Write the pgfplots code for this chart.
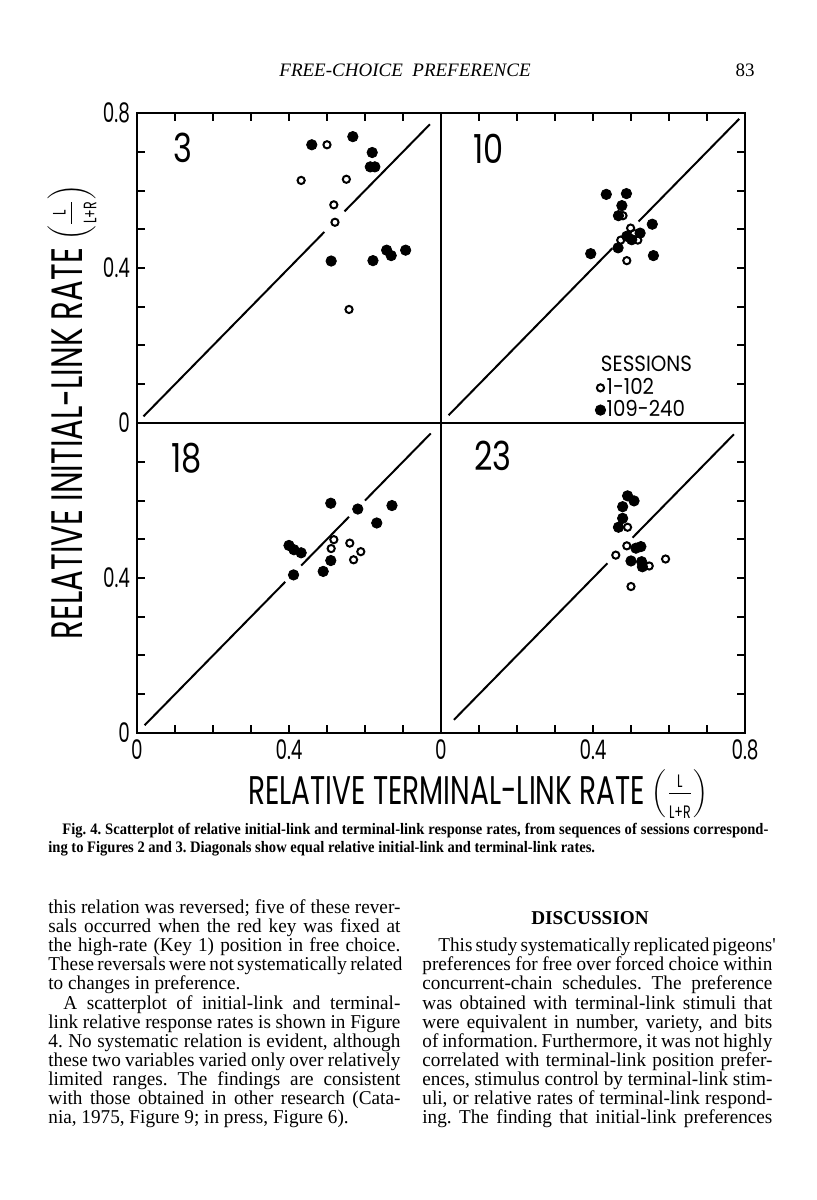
\documentclass[border=0pt]{standalone}
\usepackage{fontspec}
\usepackage{pgfplots}
\pgfplotsset{compat=1.18}
\setmainfont{Liberation Serif}
\frenchspacing
\newfontfamily\fut[FakeStretch=0.68]{Poppins}
\newfontfamily\futl[FakeStretch=0.70]{Poppins}
\newfontfamily\futw[FakeStretch=0.80]{Poppins}
\newfontfamily\futg[FakeStretch=0.90]{Poppins}
\newfontfamily\body[FakeStretch=0.98]{Liberation Serif}
\newfontfamily\capf[FakeStretch=0.91]{Liberation Serif}
\newcommand\bodyfont{\body\fontsize{9.8}{9.8}\selectfont\frenchspacing}
\newcommand\BL[4]{\node[anchor=base west,inner sep=0pt] at (#1,#2) {\bodyfont\makebox[#3pt][s]{#4}};}
\newcommand\BN[3]{\node[anchor=base west,inner sep=0pt] at (#1,#2) {\bodyfont #3};}
\newcommand\frc{$\left(\frac{\mbox{\futl\fontsize{9}{9}\selectfont L}}{\mbox{\futl\fontsize{9}{9}\selectfont L+R}}\right)$}
\pgfplotsset{
  panel/.style={
    scale only axis, width=152pt, height=155pt, anchor=south west,
    xmin=0, xmax=0.8, ymin=0, ymax=0.8,
    xtick={0,0.1,0.2,0.3,0.4,0.5,0.6,0.7,0.8},
    ytick={0,0.1,0.2,0.3,0.4,0.5,0.6,0.7,0.8},
    tick align=inside, major tick length=4pt,
    tick style={line width=1pt, black},
    axis line style={line width=1.25pt},
    ticklabel style={font=\fut\fontsize{13.5}{13.5}\selectfont},
    xticklabels={}, yticklabels={},
  },
  open/.style={only marks, mark=o, mark size=1.8pt, mark options={line width=1pt, black}},
  filled/.style={only marks, mark=*, mark size=2.6pt, mark options={black, fill=black}},
  diag/.style={black, line width=1pt, forget plot},
}
\begin{document}
\begin{tikzpicture}
\useasboundingbox (0,0) rectangle (408pt,600pt);
% ---------- panel 3 (top left)
\begin{axis}[panel, at={(68.5pt,388.5pt)}, xtick pos=right, ytick pos=left,
  yticklabels={0,,,,0.4,,,,0.8}]
\addplot[diag] coordinates {(0.017,0.017) (0.493,0.493)};
\addplot[diag] coordinates {(0.546,0.546) (0.771,0.771)};
\addplot[open] coordinates {(0.500,0.718) (0.432,0.626) (0.551,0.629) (0.518,0.563) (0.521,0.518) (0.558,0.293)};
\addplot[filled] coordinates {(0.460,0.718) (0.568,0.739) (0.619,0.698) (0.614,0.661) (0.626,0.661) (0.511,0.418) (0.621,0.419) (0.657,0.446) (0.669,0.432) (0.707,0.446)};
\node[font=\futw\fontsize{20}{20}\selectfont] at (axis cs:0.122,0.711) {3};
\end{axis}
% ---------- panel 10 (top right)
\begin{axis}[panel, at={(220.5pt,388.5pt)}, xtick pos=right, ytick pos=right,
  legend style={at={(axis cs:0.405,0.119)}, anchor=north west, draw=none, fill=none,
    font=\futg\fontsize{11}{11}\selectfont, row sep=0.5pt, inner sep=0pt,
    nodes={inner sep=0.5pt}, cells={anchor=west}},
  legend image code/.code={\draw[#1,only marks] plot coordinates {(0pt,0pt)};}]
\addplot[diag] coordinates {(0.02,0.02) (0.451,0.451)};
\addplot[diag] coordinates {(0.52,0.52) (0.785,0.785)};
\addplot[open] coordinates {(0.479,0.535) (0.499,0.503) (0.473,0.472) (0.508,0.489) (0.518,0.472) (0.489,0.419)};
\addplot[filled] coordinates {(0.435,0.590) (0.488,0.592) (0.476,0.561) (0.467,0.535) (0.556,0.513) (0.394,0.437) (0.466,0.452) (0.489,0.482) (0.502,0.473) (0.524,0.490) (0.559,0.432)};
\legend{1-102,109-240}
\node[font=\futw\fontsize{20}{20}\selectfont] at (axis cs:0.126,0.707) {10};
\node[anchor=west, inner sep=0pt, font=\futg\fontsize{11}{11}\selectfont] at (axis cs:0.420,0.152) {SESSIONS};
\end{axis}
% ---------- panel 18 (bottom left)
\begin{axis}[panel, at={(68.5pt,233.5pt)}, xtick pos=left, ytick pos=left,
  xticklabels={0,,,,0.4,,,,}, yticklabels={0,,,,0.4,,,,}]
\addplot[diag] coordinates {(0.02,0.02) (0.39,0.39)};
\addplot[diag] coordinates {(0.432,0.432) (0.558,0.558)};
\addplot[diag] coordinates {(0.60,0.60) (0.773,0.773)};
\addplot[open] coordinates {(0.518,0.499) (0.511,0.476) (0.560,0.490) (0.570,0.447) (0.589,0.468)};
\addplot[filled] coordinates {(0.510,0.593) (0.581,0.578) (0.671,0.587) (0.631,0.542) (0.400,0.484) (0.413,0.473) (0.432,0.465) (0.412,0.408) (0.490,0.417) (0.510,0.445)};
\node[font=\futw\fontsize{20}{20}\selectfont] at (axis cs:0.131,0.709) {18};
\end{axis}
% ---------- panel 23 (bottom right)
\begin{axis}[panel, at={(220.5pt,233.5pt)}, xtick pos=left, ytick pos=right,
  xticklabels={0,,,,0.4,,,,0.8}]
\addplot[diag] coordinates {(0.034,0.034) (0.438,0.438)};
\addplot[diag] coordinates {(0.504,0.504) (0.771,0.771)};
\addplot[open] coordinates {(0.491,0.531) (0.489,0.483) (0.460,0.459) (0.548,0.431) (0.591,0.449) (0.500,0.378)};
\addplot[filled] coordinates {(0.491,0.612) (0.508,0.599) (0.478,0.584) (0.478,0.554) (0.467,0.531) (0.513,0.477) (0.526,0.481) (0.500,0.444) (0.528,0.442) (0.530,0.429)};
\node[font=\futw\fontsize{20}{20}\selectfont] at (axis cs:0.137,0.714) {23};
\end{axis}
% ---------- text in pixel coordinates (origin top left)
\begin{scope}[shift={(0pt,600pt)}, x=0.5pt, y=-0.5pt]
\node[anchor=base, inner sep=0pt, font=\itshape\fontsize{9.5}{10}\selectfont] at (405,77) {FREE-CHOICE\ \ PREFERENCE};
\node[anchor=base, inner sep=0pt, font=\fontsize{9.5}{10}\selectfont] at (745,77) {83};
% axis titles
\node[rotate=90, inner sep=0pt, font=\futl\fontsize{22}{22}\selectfont] at (72,412)
  {RELATIVE INITIAL-LINK RATE\,\frc};
\node[inner sep=0pt, font=\futl\fontsize{20}{20}\selectfont] at (478,794)
  {RELATIVE TERMINAL-LINK RATE\,\frc};
% caption
\node[anchor=base west, inner sep=0pt] at (62,835) {\capf\bfseries\fontsize{8}{8}\selectfont\makebox[353pt][s]{Fig. 4. Scatterplot of relative initial-link and terminal-link response rates, from sequences of sessions correspond-}};
\node[anchor=base west, inner sep=0pt] at (48,853) {\capf\bfseries\fontsize{8}{8}\selectfont ing to Figures 2 and 3. Diagonals show equal relative initial-link and terminal-link rates.};
% left column
\BL{48}{914}{176}{this relation was reversed; five of these rever-}
\BL{48}{933}{176}{sals occurred when the red key was fixed at}
\BL{48}{952}{176}{the high-rate (Key 1) position in free choice.}
\BL{48}{971}{176}{These reversals were not systematically related}
\BN{48}{990}{to changes in preference.}
\BL{63}{1010}{168.5}{A scatterplot of initial-link and terminal-}
\BL{48}{1029}{176}{link relative response rates is shown in Figure}
\BL{48}{1048}{176}{4. No systematic relation is evident, although}
\BL{48}{1067}{176}{these two variables varied only over relatively}
\BL{48}{1086}{176}{limited ranges. The findings are consistent}
\BL{48}{1105}{176}{with those obtained in other research (Cata-}
\BN{48}{1124}{nia, 1975, Figure 9; in press, Figure 6).}
% right column
\node[anchor=base, inner sep=0pt] at (590,925) {\body\bfseries\fontsize{9.8}{9.8}\selectfont DISCUSSION};
\BL{438}{952}{167}{This study systematically replicated pigeons'}
\BL{422}{971}{175}{preferences for free over forced choice within}
\BL{422}{990}{175}{concurrent-chain schedules. The preference}
\BL{422}{1010}{175}{was obtained with terminal-link stimuli that}
\BL{422}{1029}{175}{were equivalent in number, variety, and bits}
\BL{422}{1048}{175}{of information. Furthermore, it was not highly}
\BL{422}{1067}{175}{correlated with terminal-link position prefer-}
\BL{422}{1086}{175}{ences, stimulus control by terminal-link stim-}
\BL{422}{1105}{175}{uli, or relative rates of terminal-link respond-}
\BL{422}{1124}{175}{ing. The finding that initial-link preferences}
\end{scope}
\end{tikzpicture}
\end{document}
